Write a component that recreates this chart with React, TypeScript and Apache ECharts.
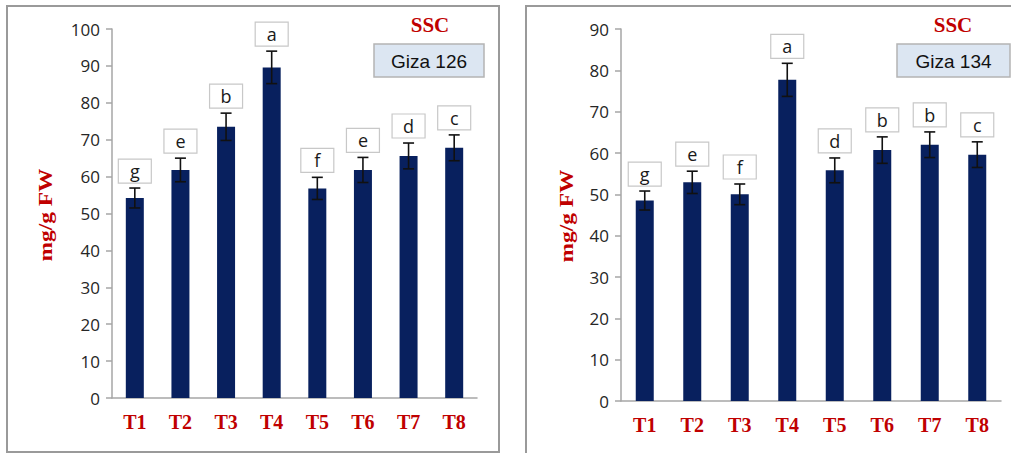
import React, { useEffect, useRef } from "react";
import * as echarts from "echarts";

const categories = ["T1", "T2", "T3", "T4", "T5", "T6", "T7", "T8"];

const giza126Values = [54.2, 61.8, 73.5, 89.6, 56.8, 61.8, 65.6, 67.8];
const giza126Errors = [2.7, 3.2, 3.7, 4.4, 3.0, 3.4, 3.5, 3.5];
const giza126Letters = ["g", "e", "b", "a", "f", "e", "d", "c"];

const giza134Values = [48.5, 52.9, 50.0, 77.7, 55.8, 60.7, 62.0, 59.6];
const giza134Errors = [2.3, 2.7, 2.5, 4.0, 3.0, 3.2, 3.1, 3.1];
const giza134Letters = ["g", "e", "f", "a", "d", "b", "b", "c"];

const leftTicks = { min: 0, max: 100, interval: 10 };
const rightTicks = { min: 0, max: 90, interval: 10 };

const BAR = "#08205e";
const RED = "#c00000";
const AXIS = "#a6a6a6";

function errorSeries(idx: number, values: number[], errors: number[]) {
  return {
    type: "custom",
    xAxisIndex: idx,
    yAxisIndex: idx,
    z: 5,
    encode: { x: 0, y: 1 },
    data: values.map((v, i) => [i, v, errors[i]]),
    renderItem: (params: any, api: any) => {
      const x = api.value(0);
      const v = api.value(1);
      const e = api.value(2);
      const top = api.coord([x, v + e]);
      const bot = api.coord([x, v - e]);
      const hw = 5.5;
      const st = { stroke: "#111", lineWidth: 1.6 };
      return {
        type: "group",
        children: [
          { type: "line", shape: { x1: top[0], y1: top[1], x2: bot[0], y2: bot[1] }, style: st },
          { type: "line", shape: { x1: top[0] - hw, y1: top[1], x2: top[0] + hw, y2: top[1] }, style: st },
          { type: "line", shape: { x1: bot[0] - hw, y1: bot[1], x2: bot[0] + hw, y2: bot[1] }, style: st },
        ],
      };
    },
  };
}

function letterSeries(idx: number, values: number[], errors: number[], letters: string[]) {
  return {
    type: "custom",
    xAxisIndex: idx,
    yAxisIndex: idx,
    z: 6,
    encode: { x: 0, y: 1 },
    data: values.map((v, i) => [i, v + errors[i]]),
    renderItem: (params: any, api: any) => {
      const p = api.coord([api.value(0), api.value(1)]);
      const w = 33;
      const h = 24;
      const bottom = p[1] - 5;
      return {
        type: "group",
        children: [
          {
            type: "rect",
            shape: { x: p[0] - w / 2, y: bottom - h, width: w, height: h },
            style: { fill: "#ffffff", stroke: "#c8c8c8", lineWidth: 1.2 },
          },
          {
            type: "text",
            style: {
              text: letters[params.dataIndex],
              x: p[0],
              y: bottom - h / 2,
              align: "center",
              verticalAlign: "middle",
              fontSize: 18,
              fontFamily: "Open Sans",
              fill: "#1a1a1a",
            },
          },
        ],
      };
    },
  };
}

function barSeries(idx: number, values: number[]) {
  return {
    type: "bar",
    xAxisIndex: idx,
    yAxisIndex: idx,
    barWidth: 18,
    data: values,
    itemStyle: { color: BAR },
  };
}

function xAxis(idx: number) {
  return {
    type: "category",
    gridIndex: idx,
    data: categories,
    axisLine: { lineStyle: { color: AXIS, width: 1.5 } },
    axisTick: { length: 7, lineStyle: { color: AXIS, width: 1.5 } },
    axisLabel: {
      color: RED,
      fontFamily: "Liberation Serif",
      fontWeight: "bold",
      fontSize: 20,
      margin: 14,
    },
  };
}

function yAxis(idx: number, t: { min: number; max: number; interval: number }) {
  return {
    type: "value",
    gridIndex: idx,
    min: t.min,
    max: t.max,
    interval: t.interval,
    splitLine: { show: false },
    axisLine: { show: true, lineStyle: { color: AXIS, width: 1.5 } },
    axisTick: { show: true, length: 6, lineStyle: { color: AXIS, width: 1.5 } },
    axisLabel: {
      color: "#262626",
      fontFamily: "Open Sans",
      fontSize: 17,
      margin: 12,
    },
  };
}

function legendGraphics(titleX: number, boxX: number, boxW: number, label: string) {
  return [
    {
      type: "text",
      x: titleX,
      y: 25,
      style: {
        text: "SSC",
        align: "center",
        verticalAlign: "middle",
        fontFamily: "Liberation Serif",
        fontWeight: "bold",
        fontSize: 21,
        fill: RED,
      },
    },
    {
      type: "rect",
      shape: { x: boxX, y: 44, width: boxW, height: 33 },
      style: { fill: "#dce6f2", stroke: "#b4b4b4", lineWidth: 1.5 },
    },
    {
      type: "text",
      x: boxX + boxW / 2,
      y: 61,
      style: {
        text: label,
        align: "center",
        verticalAlign: "middle",
        fontFamily: "Liberation Sans",
        fontSize: 19,
        fill: "#111",
      },
    },
  ];
}

function yName(x: number, y: number) {
  return {
    type: "text",
    x,
    y,
    rotation: Math.PI / 2,
    scaleX: 1.3,
    style: {
      text: "mg/g FW",
      align: "center",
      verticalAlign: "middle",
      fontFamily: "Liberation Serif",
      fontWeight: "bold",
      fontSize: 18,
      fill: RED,
    },
  };
}

export default function App() {
  const ref = useRef<HTMLDivElement>(null);
  useEffect(() => {
    if (!ref.current) return;
    const chart = echarts.init(ref.current, undefined, { renderer: "svg" });
    chart.setOption({
      animation: false,
      backgroundColor: "#ffffff",
      grid: [
        { left: 112, top: 29, width: 365, height: 369 },
        { left: 621, top: 29, width: 380, height: 372 },
      ],
      xAxis: [xAxis(0), xAxis(1)],
      yAxis: [yAxis(0, leftTicks), yAxis(1, rightTicks)],
      series: [
        barSeries(0, giza126Values),
        errorSeries(0, giza126Values, giza126Errors),
        letterSeries(0, giza126Values, giza126Errors, giza126Letters),
        barSeries(1, giza134Values),
        errorSeries(1, giza134Values, giza134Errors),
        letterSeries(1, giza134Values, giza134Errors, giza134Letters),
      ],
      graphic: [
        {
          type: "rect",
          z: -10,
          shape: { x: 7, y: 6, width: 492, height: 446 },
          style: { fill: "none", stroke: "#9a9a9a", lineWidth: 2 },
        },
        {
          type: "rect",
          z: -10,
          shape: { x: 526, y: 6, width: 490, height: 452 },
          style: { fill: "none", stroke: "#9a9a9a", lineWidth: 2 },
        },
        ...legendGraphics(430, 374, 110, "Giza 126"),
        ...legendGraphics(953, 897, 113, "Giza 134"),
        yName(46, 215),
        yName(567, 216),
      ],
    });
    return () => chart.dispose();
  }, []);
  return (
    <div
      ref={ref}
      style={{ position: "fixed", left: 0, top: 0, width: 1011, height: 453 }}
    />
  );
}
